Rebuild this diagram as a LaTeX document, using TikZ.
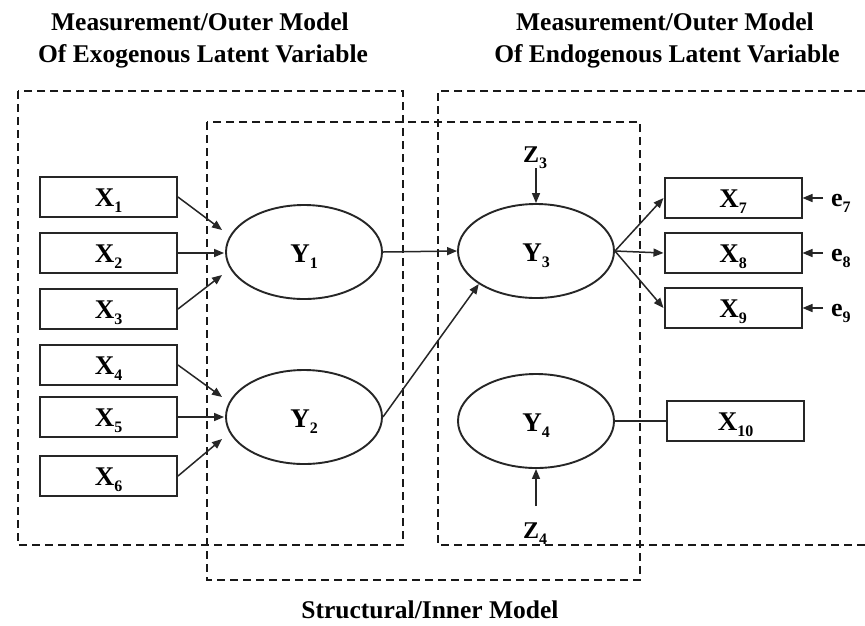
\documentclass[tikz,border=0pt]{standalone}
\usepackage{fontspec}
\setmainfont{Liberation Serif}
\usetikzlibrary{arrows.meta,calc,shapes.geometric}
\newcommand\sbs[1]{\raisebox{-6pt}{\fontsize{16}{16}\selectfont #1}}
\begin{document}
\begin{tikzpicture}[x=1pt,y=-1pt,
  dbox/.style={line width=2.5pt, dash pattern=on 8pt off 5pt, black!90},
  obs/.style={draw=black!85, line width=2pt, minimum width=137pt, minimum height=40pt, inner sep=0pt, text height=19pt, text depth=0pt, font=\fontsize{27}{27}\selectfont\bfseries},
  lat/.style={draw=black!85, ellipse, line width=1.9pt, minimum width=156pt, minimum height=94pt, inner sep=0pt, text height=20pt, text depth=0pt, font=\fontsize{27}{27}\selectfont\bfseries},
  arr/.style={draw=black!85, line width=1.5pt, -{Triangle[length=10pt,width=8pt]}},
  lnk/.style={draw=black!85, line width=1.5pt},
  ttl/.style={anchor=base, inner sep=0pt, font=\fontsize{25.5}{26}\selectfont\bfseries},
  elab/.style={anchor=base west, inner sep=0pt, font=\fontsize{26}{26}\selectfont\bfseries},
  zlab/.style={anchor=base, inner sep=0pt, font=\fontsize{24}{24}\selectfont\bfseries}]
\useasboundingbox (0,0) rectangle (865,625);
\fill[white] (0,0) rectangle (865,625);

% titles
\node[ttl] (t1a) at (200,30) {Measurement/Outer Model};
\node[ttl] (t1b) at (203,62) {Of Exogenous Latent Variable};
\node[ttl] (t2a) at (665,30) {Measurement/Outer Model};
\node[ttl] (t2b) at (667,62) {Of Endogenous Latent Variable};
\node[ttl] (t3) at (430,618) {Structural/Inner Model};

% dashed regions
\draw[dbox] (18,91) rectangle (403,545);
\draw[dbox] (207,122) rectangle (640,580);
\draw[dbox] (865,91) -- (438,91) -- (438,545) -- (865,545);

% observed indicators (exogenous)
\node[obs] (x1) at (108.5,197) {X\sbs{1}};
\node[obs] (x2) at (108.5,253) {X\sbs{2}};
\node[obs] (x3) at (108.5,309) {X\sbs{3}};
\node[obs] (x4) at (108.5,365) {X\sbs{4}};
\node[obs] (x5) at (108.5,417) {X\sbs{5}};
\node[obs] (x6) at (108.5,476) {X\sbs{6}};

% latent variables
\node[lat] (y1) at (304,252) {Y\sbs{1}};
\node[lat] (y2) at (304,417) {Y\sbs{2}};
\node[lat] (y3) at (536,251) {Y\sbs{3}};
\node[lat] (y4) at (536,421) {Y\sbs{4}};

% endogenous indicators
\node[obs] (x7) at (733,198) {X\sbs{7}};
\node[obs] (x8) at (733,253) {X\sbs{8}};
\node[obs] (x9) at (733,308) {X\sbs{9}};
\node[obs] (x10) at (735.5,421) {X\sbs{10}};

% errors and disturbances
\node[elab] (e7) at (831,206) {e\sbs{7}};
\node[elab] (e8) at (831,261) {e\sbs{8}};
\node[elab] (e9) at (831,316) {e\sbs{9}};
\node[zlab] (z3) at (535,162) {Z\sbs{3}};
\node[zlab] (z4) at (535,538) {Z\sbs{4}};

% arrows into Y1, Y2
\draw[arr] (x1.east) -- ([shift={(-3,-22)}]y1.west);
\draw[arr] (x2.east) -- ([shift={(-1,1)}]y1.west);
\draw[arr] (x3.east) -- ([shift={(-3,23)}]y1.west);
\draw[arr] (x4.east) -- ([shift={(-3,-20)}]y2.west);
\draw[arr] (x5.east) -- ([shift={(-1,0)}]y2.west);
\draw[arr] (x6.east) -- ([shift={(-3,22)}]y2.west);

% structural paths
\draw[arr] (y1.east) -- (y3.west);
\draw[arr] (y2.east) -- (y3.210);

% Y3 to indicators
\draw[arr] (y3.east) -- (x7.west);
\draw[arr] (y3.east) -- (x8.west);
\draw[arr] (y3.east) -- (x9.west);
\draw[lnk] (y4.east) -- (x10.west);

% errors
\draw[arr, shorten <=8pt] (e7.west |- x7.east) -- (x7.east);
\draw[arr, shorten <=8pt] (e8.west |- x8.east) -- (x8.east);
\draw[arr, shorten <=8pt] (e9.west |- x9.east) -- (x9.east);
\draw[arr] (z3.south -| y3.north) -- (y3.north);
\draw[arr, shorten <=16pt] (z4.north -| y4.south) -- (y4.south);
\end{tikzpicture}
\end{document}
